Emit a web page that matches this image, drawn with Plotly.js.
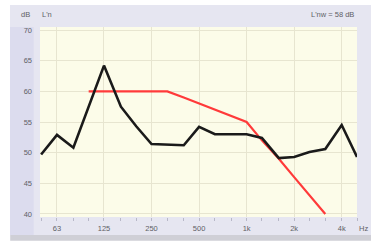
<!DOCTYPE html>
<html>
<head>
<meta charset="utf-8">
<script src="https://cdn.plot.ly/plotly-3.0.1.min.js"></script>
<style>html,body{margin:0;padding:0;background:#fff;}#chart{width:371px;height:248px;}</style>
</head>
<body>
<div id="chart"></div>
<script>
// Third-octave band centre frequencies (Hz)
const freqs = [50, 63, 80, 100, 125, 160, 200, 250, 315, 400, 500, 630, 800, 1000, 1250, 1600, 2000, 2500, 3150, 4000, 5000];
// Measured L'n (dB)
const measured = [49.7, 52.9, 50.8, 57.6, 64.2, 57.5, 54.3, 51.4, 51.3, 51.2, 54.2, 53.0, 53.0, 53.0, 52.4, 49.1, 49.3, 50.1, 50.6, 54.5, 49.3];
// Shifted reference curve (ISO 717-2)
const refFreqs = [100, 125, 160, 200, 250, 315, 400, 500, 630, 800, 1000, 1250, 1600, 2000, 2500, 3150];
const refValues = [60, 60, 60, 60, 60, 60, 59, 58, 57, 56, 55, 52, 49, 46, 43, 40];
// Axis ticks
const xTickVals = [63, 125, 250, 500, 1000, 2000, 4000];
const xTickText = ['63', '125', '250', '500', '1k', '2k', '4k'];
const yTickVals = [40, 45, 50, 55, 60, 65, 70];

const font = {family: 'Liberation Sans, Arial, sans-serif', size: 7.5, color: '#5f5f66'};

const traces = [
  {x: refFreqs, y: refValues, type: 'scatter', mode: 'lines',
   line: {color: '#ff3a3a', width: 2.2}, cliponaxis: false, hoverinfo: 'skip'},
  {x: freqs, y: measured, type: 'scatter', mode: 'lines',
   line: {color: '#1a1a1a', width: 2.6}, cliponaxis: false, hoverinfo: 'skip'}
];

const layout = {
  width: 371, height: 248,
  margin: {l: 40, r: 14, t: 27, b: 31, pad: 0},
  paper_bgcolor: '#ffffff',
  plot_bgcolor: '#fcfce9',
  showlegend: false,
  font: font,
  xaxis: {
    type: 'log', range: [1.6918, 3.699],
    tickmode: 'array', tickvals: xTickVals, ticktext: xTickText,
    showgrid: true, gridcolor: '#e7e5d0', gridwidth: 1,
    zeroline: false, showline: false,
    ticks: '', ticklabelstandoff: 5,
    minor: {tickmode: 'array', tickvals: freqs, ticks: 'outside', ticklen: 3, tickcolor: '#b8b8c8', showgrid: false},
    tickfont: font, fixedrange: true
  },
  yaxis: {
    range: [39.5, 70.5],
    tickmode: 'array', tickvals: yTickVals,
    showgrid: true, gridcolor: '#e7e5d0', gridwidth: 1,
    zeroline: false, showline: false,
    ticks: '', ticklabelstandoff: 7,
    tickfont: font, fixedrange: true
  },
  shapes: [
    {type: 'rect', xref: 'paper', yref: 'paper', x0: -0.094, x1: 1.05, y0: -0.125, y1: -0.09,
     fillcolor: '#cfcfd6', line: {width: 0}, layer: 'below'},
    {type: 'rect', xref: 'paper', yref: 'paper', x0: -0.0946, x1: 1.05, y0: -0.0947, y1: 1.116,
     fillcolor: '#e6e6f1', line: {width: 0}, layer: 'below'},
    {type: 'rect', xref: 'paper', yref: 'paper', x0: -0.0946, x1: -0.02, y0: -0.0947, y1: 1.0,
     fillcolor: '#dcdcee', line: {width: 0}, layer: 'below'},
    {type: 'rect', xref: 'paper', yref: 'paper', x0: 0, x1: 1, y0: 0, y1: 1,
     fillcolor: '#fcfce9', line: {width: 0}, layer: 'below'}
  ],
  annotations: [
    {text: 'dB', xref: 'paper', yref: 'paper', x: -0.045, y: 1.065, xanchor: 'center', yanchor: 'middle', showarrow: false, font: font},
    {text: "L'n", xref: 'paper', yref: 'paper', x: 0.0, y: 1.065, xanchor: 'left', yanchor: 'middle', showarrow: false, font: font},
    {text: "L'nw = 58 dB", xref: 'paper', yref: 'paper', x: 0.997, y: 1.065, xanchor: 'right', yanchor: 'middle', showarrow: false, font: font},
    {text: 'Hz', xref: 'paper', yref: 'paper', x: 1.019, y: -0.058, xanchor: 'center', yanchor: 'middle', showarrow: false, font: font}
  ]
};

Plotly.newPlot('chart', traces, layout, {displayModeBar: false, staticPlot: true});
</script>
</body>
</html>
